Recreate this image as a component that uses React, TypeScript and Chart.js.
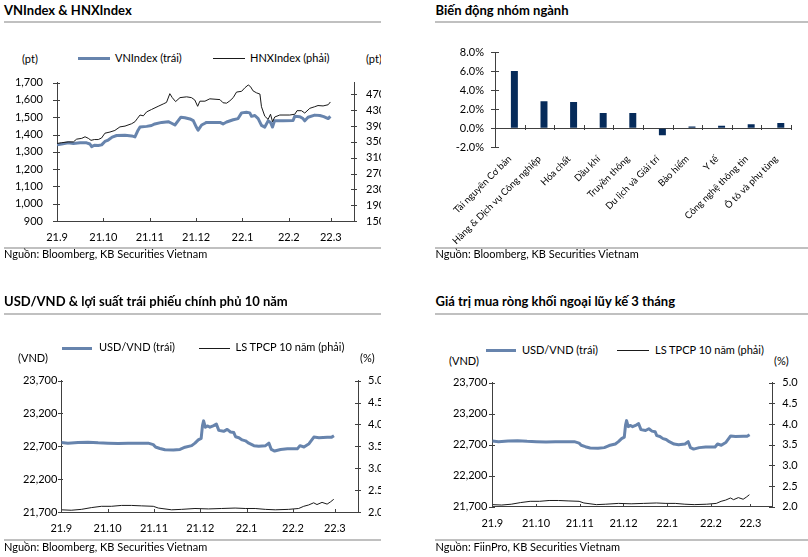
import React, { useEffect, useRef } from 'react';
import { Chart, registerables } from 'chart.js';
Chart.register(...registerables);

const FONT = 'Lato, "Noto Sans", sans-serif';
const AXIS = '#404040';
const BLUE = '#6784ad';
const DARK = '#1a1a1a';
const NAVY = '#062b5a';
const RULE = '#c0c0c0';

// x axis: trading-day index, month starts
const monthTickDays = [0, 21, 42, 63, 84, 105, 124];
const monthTickLabels = ['21.9', '21.10', '21.11', '21.12', '22.1', '22.2', '22.3'];
const dayAxisMax = 134.5;

const vnIndex: [number, number][] = [
  [0, 1340], [2.1, 1345], [5.1, 1352], [7.4, 1348], [10.4, 1352], [13.4, 1352], [14.9, 1345], [15.7, 1330],
  [16.9, 1338], [18.7, 1336], [20.2, 1340], [21.7, 1360], [23.2, 1368], [25.0, 1385], [27.0, 1394], [30.8, 1395],
  [33.8, 1392], [35.3, 1386], [36.5, 1420], [37.6, 1443], [40.6, 1447], [42.8, 1452], [44.3, 1461], [47.4, 1470],
  [50.4, 1474], [51.9, 1465], [53.4, 1455], [54.9, 1480], [56.1, 1500], [57.9, 1497], [60.2, 1490], [61.7, 1480],
  [63.2, 1440], [63.9, 1425], [65.5, 1455], [67.0, 1465], [67.7, 1470], [73.8, 1470], [75.2, 1461], [76.8, 1472],
  [79.8, 1485], [82.0, 1492], [83.6, 1525], [85.8, 1528], [87.3, 1525], [88.1, 1505], [89.6, 1510], [91.1, 1492],
  [92.6, 1453], [94.1, 1443], [95.6, 1479], [96.7, 1470], [97.6, 1443], [98.5, 1479], [102.4, 1479], [106.9, 1481],
  [107.7, 1506], [110.0, 1503], [111.4, 1492], [112.2, 1479], [113.7, 1500], [116.7, 1512], [119.0, 1510],
  [120.8, 1503], [122.8, 1492], [123.8, 1505],
];
const hnxIndex: [number, number][] = [
  [0, 346], [2.1, 348], [5.1, 350], [7.4, 350], [8.9, 357], [11.2, 359], [12.7, 363], [14.2, 359], [15.4, 354],
  [16.9, 356], [18.7, 356], [20.2, 360], [21.7, 372], [24.0, 375], [26.2, 379], [28.5, 388], [30.8, 390],
  [33.8, 396], [35.3, 401], [36.5, 410], [37.6, 418], [39.1, 416], [40.6, 426], [42.8, 432], [45.8, 440],
  [48.1, 446], [49.6, 450], [51.1, 472], [52.2, 462], [53.7, 452], [55.7, 462], [58.7, 464], [60.9, 462],
  [62.4, 456], [63.7, 440], [64.7, 453], [67.0, 453], [69.2, 459], [73.8, 457], [75.2, 449], [76.8, 448],
  [78.3, 454], [79.8, 462], [81.3, 476], [83.6, 478], [85.1, 487], [86.6, 494], [87.6, 490], [88.8, 479],
  [90.4, 474], [91.9, 471], [92.6, 439], [94.1, 415], [95.6, 407], [96.7, 420], [97.6, 401], [98.6, 413],
  [100.9, 418], [105.4, 418], [107.7, 420], [108.7, 429], [110.7, 429], [112.2, 423], [114.5, 435], [116.7, 439],
  [118.2, 442], [120.5, 441], [122.8, 444], [123.8, 451],
];
const vnTicks = [900, 1000, 1100, 1200, 1300, 1400, 1500, 1600, 1700];
const hnxTicks = [150, 190, 230, 270, 310, 350, 390, 430, 470];

const sectorNames = ['Tài nguyên Cơ bản', 'Hàng & Dịch vụ Công nghiệp', 'Hóa chất', 'Dầu khí', 'Truyền thông',
  'Du lịch và Giải trí', 'Bảo hiểm', 'Y tế', 'Công nghệ thông tin', 'Ô tô và phụ tùng'];
const sectorChange = [6.05, 2.85, 2.77, 1.62, 1.62, -0.72, 0.2, 0.26, 0.43, 0.56];
const sectorTicks = [-2, 0, 2, 4, 6, 8];

const usdVnd: [number, number][] = [
  [0, 22758], [3, 22748], [7.6, 22758], [12.1, 22763], [16.7, 22753], [21.2, 22748], [25.8, 22744], [30.3, 22748],
  [34.9, 22748], [39.4, 22748], [41.7, 22725], [42.7, 22690], [44.7, 22667], [47, 22647], [50.8, 22642],
  [53.8, 22652], [56.1, 22686], [59.1, 22710], [60.6, 22748], [62.1, 22797], [63.4, 22821], [64, 23015],
  [64.5, 23087], [65.3, 22990], [66.4, 23010], [67.4, 22990], [69.1, 23015], [70.3, 23038], [71.4, 22942],
  [73.6, 22928], [75.2, 22957], [76.7, 22918], [78.2, 22909], [79, 22845], [80.5, 22831], [82, 22797],
  [83.5, 22783], [85, 22748], [87.3, 22710], [89.5, 22700], [92.6, 22710], [94.1, 22748], [95.2, 22652],
  [96.7, 22628], [99.4, 22652], [102.5, 22661], [107, 22661], [108.2, 22710], [110, 22690], [112.3, 22739],
  [114.5, 22840], [116.8, 22831], [120.6, 22836], [122.4, 22836], [123.6, 22860],
];
const bond10y: [number, number][] = [
  [0, 2.05], [4.5, 2.04], [9.1, 2.06], [13.6, 2.1], [18.2, 2.13], [22.7, 2.13], [27.3, 2.15], [31.8, 2.15],
  [36.4, 2.14], [41.7, 2.13], [44, 2.09], [50, 2.05], [54.5, 2.06], [60.6, 2.08], [66.7, 2.07], [72.7, 2.08],
  [78.8, 2.09], [83.4, 2.08], [87.9, 2.08], [92.5, 2.06], [97, 2.05], [103, 2.06], [107.6, 2.08], [109.9, 2.13],
  [112.1, 2.16], [114.4, 2.21], [115.9, 2.17], [118.2, 2.22], [120.5, 2.18], [122, 2.23], [123.5, 2.29],
];
const usdTicks = [21700, 22200, 22700, 23200, 23700];
const bondTicks = [2.0, 2.5, 3.0, 3.5, 4.0, 4.5, 5.0];

// draws axis tick marks that cross the axis line
const crossTicks = {
  id: 'crossTicks',
  afterDraw(chart: any, _a: any, opts: any) {
    const marks = opts.marks || [];
    const { ctx, chartArea } = chart;
    ctx.save();
    ctx.strokeStyle = AXIS;
    ctx.lineWidth = 1;
    ctx.beginPath();
    for (const m of marks) {
      const s = chart.scales[m.id];
      if (!s) continue;
      let pos: number[] = [];
      if (m.between) {
        const n = s.ticks.length;
        for (let i = 1; i <= n; i++) pos.push(s.left + ((s.right - s.left) * i) / n);
      } else pos = s.ticks.map((_: any, i: number) => s.getPixelForTick(i));
      if (s.isHorizontal()) {
        const y0 = Math.round(m.zeroOf ? chart.scales[m.zeroOf].getPixelForValue(0) : chartArea.bottom);
        for (const p of pos) {
          const x = Math.round(p) + 0.5;
          ctx.moveTo(x, y0 - m.inner);
          ctx.lineTo(x, y0 + m.outer);
        }
      } else {
        const isLeft = s.position === 'left';
        const x0 = Math.round(isLeft ? chartArea.left : chartArea.right);
        for (const p of pos) {
          const y = Math.round(p) + 0.5;
          if (isLeft) { ctx.moveTo(x0 - m.outer, y); ctx.lineTo(x0 + m.inner, y); }
          else { ctx.moveTo(x0 - m.inner, y); ctx.lineTo(x0 + m.outer, y); }
        }
      }
    }
    ctx.stroke();
    ctx.restore();
  },
};

const tickFont = { family: FONT, size: 11 };

function dualLineConfig(o: any) {
  return {
    type: 'line',
    data: {
      datasets: [
        { data: o.right.map(([x, y]: number[]) => ({ x, y })), yAxisID: 'y1', borderColor: DARK, borderWidth: 1, pointRadius: 0, order: 1 },
        { data: o.left.map(([x, y]: number[]) => ({ x, y })), yAxisID: 'y', borderColor: BLUE, borderWidth: 3, pointRadius: 0, order: 2, borderJoinStyle: 'round' },
      ],
    },
    options: {
      responsive: false,
      animation: false,
      events: [],
      layout: { padding: { top: o.padTop, left: 0, right: 0, bottom: 0 } },
      plugins: {
        legend: { display: false },
        tooltip: { enabled: false },
        crossTicks: {
          marks: [
            { id: 'y', outer: o.leftTL[0], inner: o.leftTL[1] },
            { id: 'y1', outer: o.rightTL[0], inner: o.rightTL[1] },
            { id: 'x', outer: 0, inner: 3 },
          ],
        },
      },
      scales: {
        x: {
          type: 'linear', min: 0, max: dayAxisMax,
          afterBuildTicks: (s: any) => { s.ticks = monthTickDays.map((v) => ({ value: v })); },
          afterFit: (s: any) => { s.height = o.xH; },
          ticks: { callback: (_v: any, i: number) => monthTickLabels[i], autoSkip: false, maxRotation: 0, padding: o.xPad, font: tickFont, color: '#000' },
          grid: { display: false, drawTicks: false },
          border: { color: AXIS },
        },
        y: {
          position: 'left', min: o.leftMin, max: o.leftMax,
          afterBuildTicks: (s: any) => { s.ticks = o.leftTicks.map((v: number) => ({ value: v })); },
          afterFit: (s: any) => { s.width = o.leftW; },
          ticks: { callback: (v: number) => v.toLocaleString('en-US'), padding: o.leftPad, font: tickFont, color: '#000' },
          grid: { display: false, drawTicks: false },
          border: { color: AXIS },
        },
        y1: {
          position: 'right', min: o.rightMin, max: o.rightMax,
          afterBuildTicks: (s: any) => { s.ticks = o.rightTicks.map((v: number) => ({ value: v })); },
          afterFit: (s: any) => { s.width = o.rightW; },
          ticks: { callback: o.rightFmt, padding: o.rightPad, font: tickFont, color: '#000' },
          grid: { display: false, drawTicks: false },
          border: { color: AXIS },
        },
      },
    },
    plugins: [crossTicks],
  };
}

function barConfig() {
  return {
    type: 'bar',
    data: {
      labels: sectorNames,
      datasets: [
        { data: sectorNames.map(() => null), backgroundColor: 'rgba(0,0,0,0)' },
        { data: sectorChange, backgroundColor: NAVY, borderWidth: 0 },
      ],
    },
    options: {
      responsive: false,
      animation: false,
      events: [],
      datasets: { bar: { categoryPercentage: 0.62, barPercentage: 0.76 } },
      layout: { padding: { top: 22.4, right: 17, left: 0, bottom: 0 } },
      plugins: {
        legend: { display: false },
        tooltip: { enabled: false },
        crossTicks: {
          marks: [
            { id: 'y', outer: 4, inner: 4 },
            { id: 'x', outer: 2, inner: 3, between: true, zeroOf: 'y' },
          ],
        },
      },
      scales: {
        x: {
          afterFit: (s: any) => { s.height = 97.7; },
          ticks: { autoSkip: false, minRotation: 45, maxRotation: 45, padding: 6, font: { family: FONT, size: 9.5 }, color: '#000' },
          grid: { display: false, drawTicks: false },
          border: { display: false },
        },
        y: {
          min: -2, max: 8,
          afterBuildTicks: (s: any) => { s.ticks = sectorTicks.map((v) => ({ value: v })); },
          afterFit: (s: any) => { s.width = 91; },
          ticks: { callback: (v: number) => v.toFixed(1) + '%', padding: 11, font: tickFont, color: '#000' },
          grid: { color: (c: any) => (c.tick && c.tick.value === 0 ? AXIS : 'rgba(0,0,0,0)'), drawTicks: false },
          border: { color: AXIS },
        },
      },
    },
    plugins: [crossTicks],
  };
}

function ChartCanvas({ left, top, width, height, config }: any) {
  const ref = useRef<HTMLCanvasElement>(null);
  useEffect(() => {
    const ch = new Chart(ref.current as HTMLCanvasElement, config() as any);
    return () => ch.destroy();
  }, []);
  return <canvas ref={ref} width={width} height={height} style={{ position: 'absolute', left, top, width, height, display: 'block' }} />;
}

function T({ x, base, size = 11, bold = false, children }: any) {
  return (
    <div style={{ position: 'absolute', left: x, top: base - 0.887 * size, fontSize: size, lineHeight: `${size}px`, fontWeight: bold ? 700 : 400, whiteSpace: 'nowrap' }}>
      {children}
    </div>
  );
}
function Box({ x, y, w, h, c }: any) {
  return <div style={{ position: 'absolute', left: x, top: y, width: w, height: h, background: c }} />;
}

export default function App() {
  return (
    <div style={{ position: 'absolute', left: 0, top: 0, width: 808, height: 557, background: '#fff', fontFamily: FONT, color: '#000', overflow: 'hidden' }}>
      {/* Panel 1 */}
      <div style={{ position: 'absolute', left: 0, top: 0, width: 381, height: 557, overflow: 'hidden' }}>
        <T x={4} base={16} size={13} bold>VNIndex &amp; HNXIndex</T>
        <Box x={4} y={20.5} w={377} h={2} c={RULE} />
        <Box x={78} y={56.5} w={32} h={3} c={BLUE} />
        <T x={115} base={62}>VNIndex (trái)</T>
        <Box x={213} y={57.5} w={32} h={1} c={DARK} />
        <T x={250} base={62}>HNXIndex (phải)</T>
        <T x={22} base={62.5}>(pt)</T>
        <T x={366} base={62.5}>(pt)</T>
        <ChartCanvas left={0} top={62} width={381} height={190} config={() => dualLineConfig({
          left: vnIndex, right: hnxIndex, leftTicks: vnTicks, rightTicks: hnxTicks,
          leftMin: 900, leftMax: 1700, rightMin: 150, rightMax: 500,
          rightFmt: (v: number) => String(v),
          leftW: 57, rightW: 27, xH: 31, padTop: 10, leftPad: 14, rightPad: 12, xPad: 10,
          leftTL: [4, 3], rightTL: [3, 3],
        })} />
        <Box x={4} y={247} w={377} h={2} c={RULE} />
        <T x={4} base={258}>Nguồn: Bloomberg, KB Securities Vietnam</T>
      </div>

      {/* Panel 2 */}
      <T x={435.5} base={16} size={13} bold>Biến động nhóm ngành</T>
      <Box x={435} y={20.5} w={373} h={2} c={RULE} />
      <ChartCanvas left={404} top={30} width={404} height={215} config={barConfig} />
      <Box x={435} y={247} w={373} h={2} c={RULE} />
      <T x={435.5} base={258}>Nguồn: Bloomberg, KB Securities Vietnam</T>

      {/* Panel 3 */}
      <div style={{ position: 'absolute', left: 0, top: 0, width: 381, height: 557, overflow: 'hidden' }}>
        <T x={4} base={306.5} size={13} bold>USD/VND &amp; lợi suất trái phiếu chính phủ 10 năm</T>
        <Box x={4} y={312.5} w={377} h={2} c={RULE} />
        <Box x={62} y={346.5} w={30} h={3} c={BLUE} />
        <T x={99} base={351}>USD/VND (trái)</T>
        <Box x={199} y={347.5} w={31} h={1} c={DARK} />
        <T x={235.5} base={351}>LS TPCP 10 năm (phải)</T>
        <T x={18} base={362}>(VND)</T>
        <T x={360} base={362}>(%)</T>
        <ChartCanvas left={0} top={364} width={381} height={180} config={() => dualLineConfig({
          left: usdVnd, right: bond10y, leftTicks: usdTicks, rightTicks: bondTicks,
          leftMin: 21700, leftMax: 23700, rightMin: 2, rightMax: 5,
          rightFmt: (v: number) => v.toFixed(1),
          leftW: 61.3, rightW: 23, xH: 32, padTop: 10, leftPad: 4, rightPad: 10, xPad: 10,
          leftTL: [3, 2], rightTL: [3, 3],
        })} />
        <Box x={4} y={539} w={377} h={2} c={RULE} />
        <T x={4} base={551}>Nguồn: Bloomberg, KB Securities Vietnam</T>
      </div>

      {/* Panel 4 */}
      <T x={435.5} base={306.5} size={13} bold>Giá trị mua ròng khối ngoại lũy kế 3 tháng</T>
      <Box x={435} y={312.5} w={373} h={2} c={RULE} />
      <Box x={486} y={349} w={30} h={3} c={BLUE} />
      <T x={522} base={354}>USD/VND (trái)</T>
      <Box x={617} y={350} w={32} h={1} c={DARK} />
      <T x={655} base={354}>LS TPCP 10 năm (phải)</T>
      <T x={449} base={365}>(VND)</T>
      <T x={774} base={365}>(%)</T>
      <ChartCanvas left={404} top={366} width={404} height={178} config={() => dualLineConfig({
        left: usdVnd, right: bond10y, leftTicks: usdTicks, rightTicks: bondTicks,
        leftMin: 21700, leftMax: 23700, rightMin: 2, rightMax: 5,
        rightFmt: (v: number) => v.toFixed(1),
        leftW: 88.3, rightW: 35.7, xH: 37.3, padTop: 10, leftPad: 5, rightPad: 10, xPad: 10,
        leftTL: [3, 3], rightTL: [3, 3],
      })} />
      <Box x={435} y={539} w={373} h={2} c={RULE} />
      <T x={435.5} base={551}>Nguồn: FiinPro, KB Securities Vietnam</T>
    </div>
  );
}
